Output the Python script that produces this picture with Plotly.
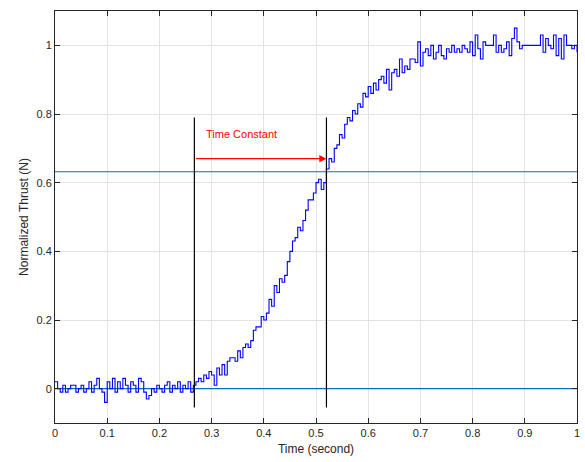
import plotly.graph_objects as go

# ---- data ----
t_step = 0.005
thrust = [
    0.02, 0.00, -0.01, 0.01, -0.01, 0.00, 0.01, 0.01, -0.01, 0.00,
    0.01, -0.01, 0.00, 0.02, -0.01, 0.01, 0.03, 0.00, -0.01, -0.04,
    0.02, 0.00, 0.03, -0.01, 0.02, 0.00, 0.03, 0.01, -0.01, 0.02,
    0.01, -0.01, 0.03, 0.02, -0.01, -0.03, -0.02, 0.00, -0.01, 0.01,
    0.00, -0.01, 0.01, 0.02, -0.01, 0.01, 0.00, 0.02, -0.01, 0.01,
    0.00, 0.02, -0.01, 0.01,
    0.02, 0.03, 0.02, 0.04, 0.03, 0.05, 0.04, 0.01, 0.06, 0.04,
    0.07, 0.04, 0.08, 0.09, 0.09, 0.08, 0.11, 0.09, 0.12, 0.13,
    0.12, 0.14, 0.17, 0.18, 0.18, 0.21, 0.20, 0.22, 0.26, 0.24,
    0.30, 0.28, 0.32, 0.31, 0.33, 0.37, 0.40, 0.43, 0.44, 0.47,
    0.46, 0.49, 0.52, 0.55, 0.55, 0.57, 0.60, 0.61, 0.58, 0.60,
    0.64, 0.67, 0.66, 0.70, 0.71, 0.74, 0.73, 0.77, 0.79, 0.78,
    0.81, 0.80, 0.83, 0.82, 0.86, 0.85, 0.88, 0.86, 0.89, 0.87,
    0.90, 0.91, 0.89, 0.93, 0.87, 0.92, 0.93, 0.91, 0.96, 0.92,
    0.94, 0.93, 0.96, 0.96, 0.95, 1.01, 0.94, 0.98, 0.99, 0.97,
    1.00, 0.96, 0.98, 1.00, 0.97, 0.96, 0.99, 0.98, 1.00, 0.98,
    0.99, 0.98, 1.00, 0.99, 0.98, 1.01, 0.97, 1.03, 0.99, 0.96,
    1.01, 1.00, 1.00, 1.00, 1.03, 0.98, 1.00, 0.98, 0.99, 1.01,
    0.97, 1.02, 1.05, 1.01, 0.99, 1.00, 1.00, 1.00, 1.00, 1.00,
    1.00, 1.00, 1.03, 0.98, 1.02, 1.00, 0.99, 1.03, 0.97, 1.02,
    0.96, 1.03, 1.00, 1.00, 0.99, 1.00, 0.98,
]
time = [round(i * t_step, 4) for i in range(len(thrust))]

level_tau = 0.632          # 63.2 % level
level_zero = 0.0
t_start = 0.267            # step start marker
t_tau = 0.52               # time-constant marker
marker_y = [-0.055, 0.79]  # extent of the vertical markers
arrow_y = 0.67
label_text = "Time Constant"
label_pos = (0.285, 0.742)

x_ticks = [0, 0.1, 0.2, 0.3, 0.4, 0.5, 0.6, 0.7, 0.8, 0.9, 1]
y_ticks = [0, 0.2, 0.4, 0.6, 0.8, 1]

FONT = "Liberation Sans, Arial, Helvetica, sans-serif"
AX = "#262626"
GRID = "#e3e3e3"
MBLUE = "#0072BD"

fig = go.Figure()

fig.add_trace(go.Scatter(x=[0, 1], y=[level_tau, level_tau], mode="lines",
                         line=dict(color=MBLUE, width=1.1), hoverinfo="skip"))
fig.add_trace(go.Scatter(x=[0, 1], y=[level_zero, level_zero], mode="lines",
                         line=dict(color=MBLUE, width=1.1), hoverinfo="skip"))
fig.add_trace(go.Scatter(x=time, y=thrust, mode="lines", line_shape="hv",
                         line=dict(color="#0000FF", width=1.1)))
fig.add_trace(go.Scatter(x=[t_start, t_start], y=marker_y, mode="lines",
                         line=dict(color="black", width=1.2), hoverinfo="skip"))
fig.add_trace(go.Scatter(x=[t_tau, t_tau], y=marker_y, mode="lines",
                         line=dict(color="black", width=1.2), hoverinfo="skip"))

fig.add_annotation(x=t_tau, y=arrow_y, ax=t_start, ay=arrow_y,
                   xref="x", yref="y", axref="x", ayref="y",
                   text="", showarrow=True, arrowhead=2, arrowsize=1.3,
                   arrowwidth=1.1, arrowcolor="#FF0000")
fig.add_annotation(x=label_pos[0], y=label_pos[1], xref="x", yref="y",
                   text=label_text, showarrow=False, xanchor="left",
                   font=dict(family=FONT, size=11, color="#FF0000"))

axis_common = dict(showline=True, linecolor=AX, linewidth=1, mirror="ticks",
                   ticks="inside", ticklen=5, tickcolor=AX, tickwidth=1,
                   showgrid=True, gridcolor=GRID, gridwidth=1, zeroline=False,
                   tickfont=dict(family=FONT, size=11, color=AX))

fig.update_layout(
    width=585, height=462,
    margin=dict(l=55, r=5, t=11, b=39),
    paper_bgcolor="white", plot_bgcolor="white",
    showlegend=False,
    xaxis=dict(range=[0, 1], tickvals=x_ticks,
               ticktext=[("%g" % v) for v in x_ticks],
               title=dict(text="Time (second)", standoff=6,
                          font=dict(family=FONT, size=12, color=AX)),
               **axis_common),
    yaxis=dict(range=[-0.1, 1.1], tickvals=y_ticks,
               ticktext=[("%g" % v) for v in y_ticks],
               title=dict(text="Normalized Thrust (N)", standoff=5,
                          font=dict(family=FONT, size=12, color=AX)),
               **axis_common),
)

fig.write_html("out.html")
